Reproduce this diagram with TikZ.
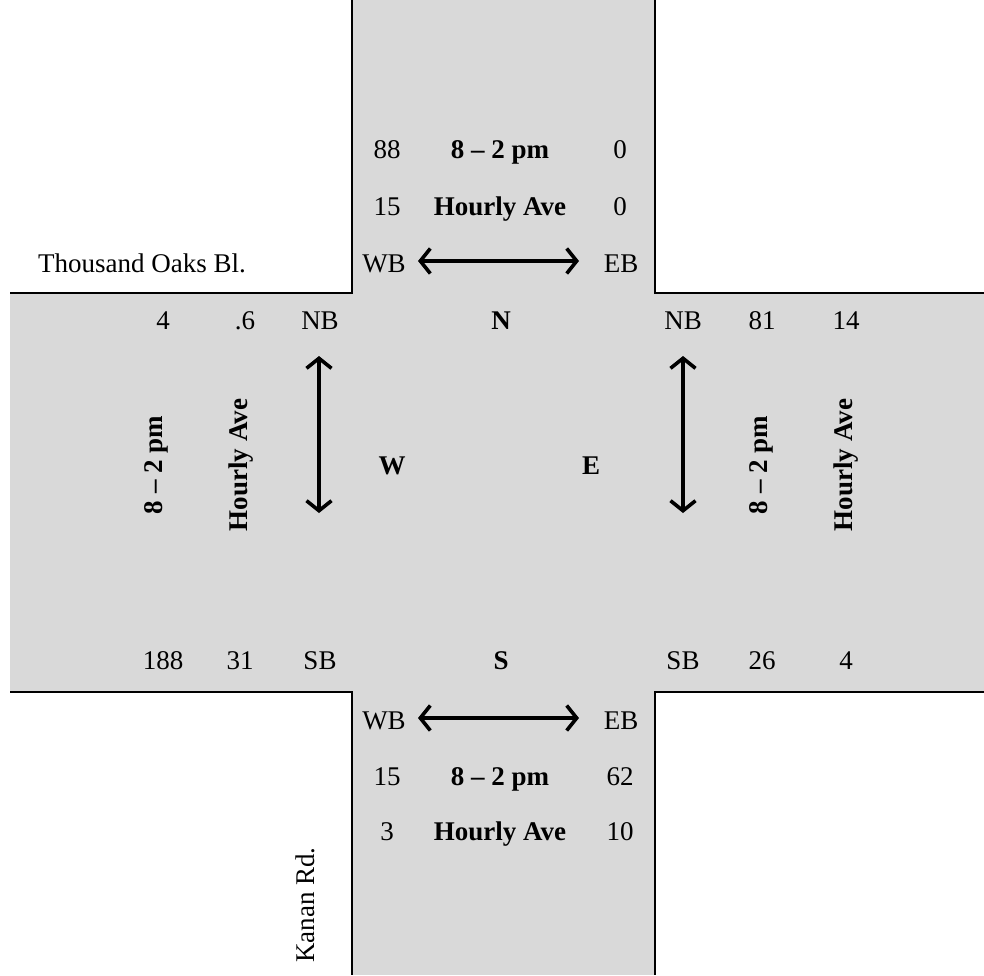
\documentclass[tikz,border=0pt]{standalone}
\usepackage{fontspec}
\setmainfont{Liberation Serif}
\usetikzlibrary{arrows.meta}
\definecolor{roadgrey}{RGB}{217,217,217}
\tikzset{
  edge/.style={line width=2.6pt,black},
  lbl/.style={font=\fontsize{27}{31}\selectfont,inner sep=0pt,anchor=base},
  blbl/.style={lbl,font=\fontsize{27}{31}\selectfont\bfseries},
  vlbl/.style={font=\fontsize{27}{31}\selectfont\bfseries,inner sep=0pt,rotate=90},
  dblarrow/.style={line width=3.6pt,{Straight Barb[length=10pt,width=25pt,line width=3.6pt]}-{Straight Barb[length=10pt,width=25pt,line width=3.6pt]}}
}
\begin{document}
\begin{tikzpicture}[x=1pt,y=-1pt]
\fill[white] (0,0) rectangle (984,975);
\useasboundingbox (0,0) rectangle (984,975);
% road surfaces
\fill[roadgrey] (352,0) rectangle (655,975);
\fill[roadgrey] (10,293) rectangle (984,692);
% kerb lines
\draw[edge] (352,0) -- (352,293) -- (10,293);
\draw[edge] (655,0) -- (655,293) -- (984,293);
\draw[edge] (10,692) -- (352,692) -- (352,975);
\draw[edge] (984,692) -- (655,692) -- (655,975);
% north approach
\node[lbl] (n88) at (387,158) {88};
\node[blbl] (nt) at (500,158) {8 – 2 pm};
\node[lbl] (n0a) at (620,158) {0};
\node[lbl] (n15) at (387,215) {15};
\node[blbl] (nh) at (500,215) {Hourly Ave};
\node[lbl] (n0b) at (620,215) {0};
\node[lbl] (nwb) at (384,272) {WB};
\node[lbl] (neb) at (621,272) {EB};
\coordinate (na) at (418,261);
\coordinate (nb) at (579,261);
\draw[dblarrow] (na) -- (nb);
\node[lbl] (tob) at (142,272) {Thousand Oaks Bl.};
% top row of horizontal road
\node[lbl] (w4) at (163,329) {4};
\node[lbl] (w06) at (245,329) {.6};
\node[lbl] (wnb) at (320,329) {NB};
\node[blbl] (N) at (501,329) {N};
\node[lbl] (enb) at (683,329) {NB};
\node[lbl] (e81) at (762,329) {81};
\node[lbl] (e14) at (846,329) {14};
% middle
\node[vlbl] (wt) at (156,465) {8 – 2 pm};
\node[vlbl] (wh) at (241,465) {Hourly Ave};
\node[vlbl] (et) at (761,465) {8 – 2 pm};
\node[vlbl] (eh) at (846,465) {Hourly Ave};
\node[blbl] (W) at (392,474) {W};
\node[blbl] (E) at (591,474) {E};
\coordinate (wa) at (319,356);
\coordinate (wb) at (319,513);
\draw[dblarrow] (wa) -- (wb);
\coordinate (ea) at (683,356);
\coordinate (eb) at (683,513);
\draw[dblarrow] (ea) -- (eb);
% bottom row
\node[lbl] (w188) at (163,669) {188};
\node[lbl] (w31) at (240,669) {31};
\node[lbl] (wsb) at (320,669) {SB};
\node[blbl] (S) at (501,669) {S};
\node[lbl] (esb) at (683,669) {SB};
\node[lbl] (e26) at (762,669) {26};
\node[lbl] (e4) at (846,669) {4};
% south approach
\node[lbl] (swb) at (384,729) {WB};
\node[lbl] (seb) at (621,729) {EB};
\coordinate (sa) at (418,718);
\coordinate (sb) at (579,718);
\draw[dblarrow] (sa) -- (sb);
\node[lbl] (s15) at (387,785) {15};
\node[blbl] (st) at (500,785) {8 – 2 pm};
\node[lbl] (s62) at (620,785) {62};
\node[lbl] (s3) at (387,840) {3};
\node[blbl] (sh) at (500,840) {Hourly Ave};
\node[lbl] (s10) at (620,840) {10};
\node[font=\fontsize{27}{31}\selectfont,inner sep=0pt,rotate=90] (kr) at (305,905) {Kanan Rd.};
\end{tikzpicture}
\end{document}
